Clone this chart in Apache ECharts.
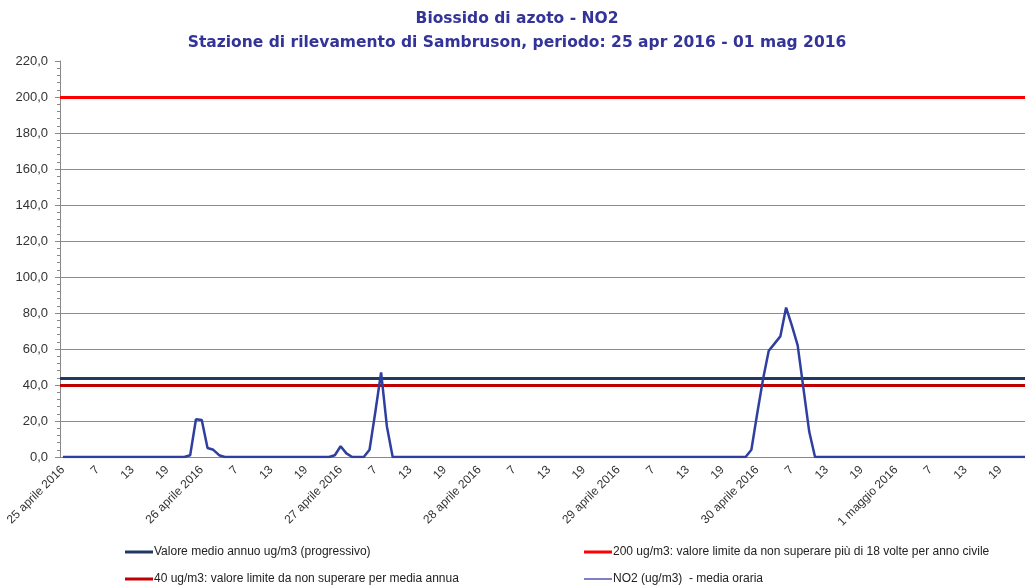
<!DOCTYPE html>
<html>
<head>
<meta charset="utf-8">
<script src="https://cdn.jsdelivr.net/npm/echarts@6/dist/echarts.min.js"></script>
<style>
html,body{margin:0;padding:0;background:#fff;overflow:hidden}
#main{width:1032px;height:588px}
</style>
</head>
<body>
<div id="main"></div>
<script>
//giorni e valori orari NO2 (ug/m3)
var giorni = ['25 aprile 2016', '26 aprile 2016', '27 aprile 2016', '28 aprile 2016', '29 aprile 2016', '30 aprile 2016', '1 maggio 2016'];
var no2_25apr = [0,0,0,0,0,0,0,0,0,0,0,0,0,0,0,0,0,0,0,0,0,0,1,21];
var no2_26apr = [20.5,5,4,1,0,0,0,0,0,0,0,0,0,0,0,0,0,0,0,0,0,0,0,1];
var no2_27apr = [6,2,0,0,0,4,25,47,17,0,0,0,0,0,0,0,0,0,0,0,0,0,0,0];
var no2_28apr = [0,0,0,0,0,0,0,0,0,0,0,0,0,0,0,0,0,0,0,0,0,0,0,0];
var no2_29apr = [0,0,0,0,0,0,0,0,0,0,0,0,0,0,0,0,0,0,0,0,0,0,0,4];
var no2_30apr = [24,43,59,63,67,83,73,62,38,14,0,0,0,0,0,0,0,0,0,0,0,0,0,0];
var no2_01mag = [0,0,0,0,0,0,0,0,0,0,0,0,0,0,0,0,0,0,0,0,0,0,0,0];

//linee di riferimento
var mediaAnnua = 43.7;
var limiteOrario = 200;
var limiteAnnuo = 40;

var nomeMedia = 'Valore medio annuo ug/m3 (progressivo)';
var nome200 = '200 ug/m3: valore limite da non superare più di 18 volte per anno civile';
var nome40 = '40 ug/m3: valore limite da non superare per media annua';
var nomeNO2 = 'NO2 (ug/m3)  - media oraria';

//categorie: ore 1..24 di ogni giorno, la prima ora porta il nome del giorno
var categorie = [];
giorni.forEach(function (g) {
  for (var h = 1; h <= 24; h++) {
    categorie.push(h === 1 ? g : String(h));
  }
});
var valori = [].concat(no2_25apr, no2_26apr, no2_27apr, no2_28apr, no2_29apr, no2_30apr, no2_01mag);

var myChart = echarts.init(document.getElementById('main'));

function legenda(nome, x, y, colore, alto) {
  return {
    left: x,
    top: y,
    icon: 'rect',
    itemWidth: 28,
    itemHeight: alto,
    itemGap: 0,
    textStyle: { fontFamily: 'Liberation Sans', fontSize: 12, color: '#222', padding: [0, 0, 0, -4] },
    data: [{ name: nome, itemStyle: { color: colore } }]
  };
}

function riferimento(nome, valore, colore) {
  return {
    name: nome,
    type: 'line',
    data: [],
    color: colore,
    markLine: {
      silent: true,
      symbol: 'none',
      label: { show: false },
      lineStyle: { color: colore, width: 3, type: 'solid' },
      data: [{ yAxis: valore }]
    }
  };
}

var option = {
  animation: false,
  title: {
    text: 'Biossido di azoto - NO2\nStazione di rilevamento di Sambruson, periodo: 25 apr 2016 - 01 mag 2016',
    left: 512,
    top: 2,
    textAlign: 'center',
    textStyle: {
      fontFamily: 'DejaVu Sans',
      fontWeight: 'bold',
      fontSize: 15.5,
      lineHeight: 24,
      color: '#333399'
    }
  },
  legend: [
    legenda(nomeMedia, 120, 541, '#1F3864', 3),
    legenda(nome200, 579, 541, '#FF0000', 3),
    legenda(nome40, 120, 568, '#C00000', 3),
    legenda(nomeNO2, 579, 568, '#7F7FC8', 2)
  ],
  grid: { left: 60, right: 0, top: 61, bottom: 131 },
  xAxis: {
    type: 'category',
    boundaryGap: true,
    data: categorie,
    axisLine: { lineStyle: { color: '#888' } },
    axisTick: { interval: 5, length: 4, lineStyle: { color: '#888' } },
    axisLabel: {
      interval: 5,
      rotate: 45,
      fontFamily: 'Liberation Sans',
      fontSize: 12,
      color: '#333',
      margin: 11
    }
  },
  yAxis: {
    type: 'value',
    min: 0,
    max: 220,
    interval: 20,
    axisLine: { show: true, lineStyle: { color: '#888' } },
    axisTick: { show: true, length: 5, lineStyle: { color: '#888' } },
    minorTick: { show: true, splitNumber: 5, length: 3, lineStyle: { color: '#888' } },
    splitLine: { show: true, showMaxLine: false, lineStyle: { color: '#8c8c8c', width: 1 } },
    axisLabel: {
      fontFamily: 'Liberation Sans',
      fontSize: 13,
      color: '#333',
      margin: 12,
      formatter: function (v) { return v.toFixed(1).replace('.', ','); }
    }
  },
  series: [
    riferimento(nomeMedia, mediaAnnua, '#1F3864'),
    riferimento(nome200, limiteOrario, '#FF0000'),
    riferimento(nome40, limiteAnnuo, '#C00000'),
    {
      name: nomeNO2,
      type: 'line',
      data: valori,
      symbol: 'none',
      z: 5,
      color: '#2F3F9F',
      lineStyle: { width: 2.5, color: '#2F3F9F' }
    }
  ]
};
myChart.setOption(option);
window.addEventListener('resize', function () {
  myChart.resize();
});
</script>
</body>
</html>
